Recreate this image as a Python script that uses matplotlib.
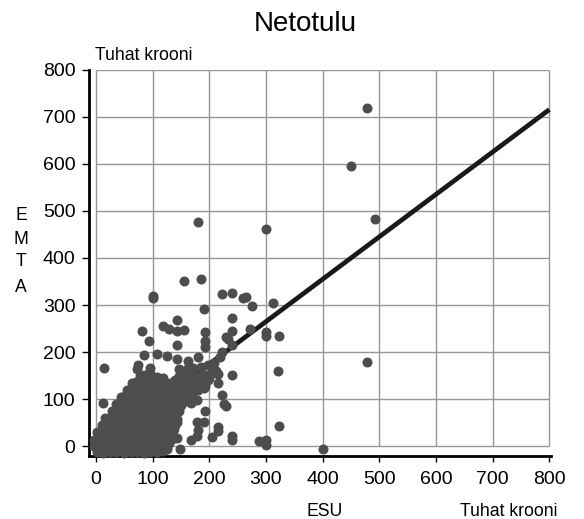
import matplotlib
matplotlib.use('Agg')
import matplotlib.pyplot as plt

plt.rcParams['font.family'] = ['Liberation Sans', 'DejaVu Sans']

ticks = [0, 100, 200, 300, 400, 500, 600, 700, 800]

# scattered points read one by one
esu_out = [478, 450, 492, 478, 300, 180, 400, 155, 186, 100, 101, 222, 240, 259, 264, 275, 312,
           191, 240, 143, 119, 129, 143, 156, 81, 193, 240, 271, 300, 300, 323, 229, 233, 192,
           93, 143, 240, 192, 84, 108, 125, 143, 163, 180, 15, 75, 72, 96, 322, 240, 216, 216,
           223, 225, 229, 193, 179, 168, 13, 323, 216, 216, 190, 179, 180, 178, 168, 204, 240,
           240, 288, 300, 300, 149, 143, 143]
emta_out = [719, 596, 483, 180, 462, 477, -6, 351, 355, 319, 316, 324, 326, 314, 317, 298, 305,
            292, 272, 268, 256, 250, 246, 247, 245, 242, 245, 249, 243, 235, 234, 232, 228, 224,
            224, 216, 216, 212, 194, 196, 191, 185, 182, 189, 167, 173, 165, 166, 160, 152, 153, 134,
            110, 90, 85, 75, 99, 92, 93, 44, 42, 32, 52, 52, 35, 23, 14, 20, 23,
            13, 12, 14, 4, -5, 18, 51]

# dense cloud near the origin, read row by row
esu_low = [1, 12, 25, 36, 50, 61, 73, 85, 96, 108, 118,
           -4, 8, 20, 33, 44, 57, 69, 80, 93, 105, 116, 125,
           -3, 9, 22, 34, 46, 58, 70, 82, 95, 107, 119, 133,
           2, 13, 24, 37, 49, 60, 72, 86, 97, 110, 122, 135,
           10, 18, 29, 41, 53, 65, 77, 88, 100, 113, 126, 140,
           16, 24, 36, 47, 59, 71, 83, 95, 107, 118, 131, 143]
emta_low = [-12, -13, -11, -12, -13, -11, -12, -13, -12, -11, -10,
            1, 0, 2, 0, 1, -1, 2, 0, 1, 0, 2, -2,
            14, 16, 15, 13, 16, 15, 14, 16, 15, 14, 16, 14,
            30, 29, 31, 30, 29, 31, 30, 29, 31, 30, 28, 30,
            45, 44, 46, 45, 44, 46, 45, 44, 46, 45, 44, 46,
            60, 61, 59, 60, 61, 59, 60, 61, 59, 60, 61, 58]
esu_mid = [28, 34, 44, 55, 67, 79, 91, 103, 115, 127, 140, 146,
           36, 42, 50, 62, 74, 86, 98, 110, 122, 134, 146, 150,
           45, 52, 64, 76, 88, 100, 112, 124, 136, 148, 158, 165,
           55, 61, 73, 85, 97, 109, 121, 133, 145, 157, 170, 180, 190,
           63, 70, 82, 94, 106, 118, 130, 142, 154, 166, 178, 190, 198,
           78, 84, 95, 108, 118, 146, 158, 170, 182, 194, 204, 212,
           96, 147, 160, 172, 185, 197, 208, 218, 222]
emta_mid = [75, 76, 74, 75, 76, 74, 75, 76, 74, 75, 74, 76,
            90, 89, 91, 90, 89, 91, 90, 89, 91, 90, 89, 88,
            105, 106, 104, 105, 106, 104, 105, 106, 104, 105, 104, 103,
            120, 119, 121, 120, 119, 121, 120, 119, 121, 120, 118, 120, 125,
            135, 136, 134, 135, 136, 134, 135, 136, 134, 135, 136, 134, 140,
            150, 151, 149, 148, 146, 150, 151, 149, 150, 151, 155, 160,
            156, 165, 164, 166, 168, 172, 178, 190, 200]

# points between the rows, keeps the cloud solid
esu_fill = [5, 18, 30, 42, 54, 66, 78, 90, 102, 114, 126,
            3, 15, 28, 40, 52, 64, 76, 90, 102, 114, 128,
            7, 19, 31, 43, 55, 67, 79, 92, 104, 116, 130,
            14, 27, 39, 51, 63, 75, 87, 99, 111, 124, 137,
            22, 34, 46, 58, 70, 82, 94, 106, 118, 130, 141,
            32, 42, 56, 68, 80, 92, 104, 116, 128, 140,
            42, 54, 66, 78, 90, 102, 114, 126, 138, 146,
            52, 64, 76, 88, 100, 112, 124, 136, 148, 158,
            62, 74, 86, 98, 110, 122, 134, 146, 158, 170,
            72, 84, 96, 108, 120, 132, 144, 156, 168, 180, 192,
            90, 104, 116, 140, 152, 164, 176, 188, 200]
emta_fill = [-6, -5, -7, -6, -5, -7, -6, -5, -7, -6, -5,
             8, 7, 9, 8, 7, 9, 8, 7, 9, 8, 7,
             22, 23, 21, 22, 23, 21, 22, 23, 21, 22, 23,
             37, 38, 36, 37, 38, 36, 37, 38, 36, 37, 38,
             52, 53, 51, 52, 53, 51, 52, 53, 51, 52, 50,
             67, 68, 66, 67, 68, 66, 67, 68, 66, 67,
             82, 83, 81, 82, 83, 81, 82, 83, 81, 82,
             97, 98, 96, 97, 98, 96, 97, 98, 96, 97,
             112, 113, 111, 112, 113, 111, 112, 113, 111, 110,
             127, 128, 126, 127, 128, 126, 127, 128, 126, 127, 128,
             143, 143, 141, 142, 143, 141, 142, 143, 145]

line_x = [0, 800]
line_y = [-5, 715]

fig = plt.figure(figsize=(5.84, 5.19), dpi=100)
ax = fig.add_axes([89.3 / 584, 1 - 455.7 / 519, (550.5 - 89.3) / 584, (455.7 - 69.5) / 519])
ax.set_xlim(-11.8, 802)
ax.set_ylim(-19.7, 800)

ax.hlines(ticks, 0, 800, color='#969696', lw=1, zorder=1)
ax.vlines(ticks, 0, 800, color='#969696', lw=1, zorder=1)

ax.plot(line_x, line_y, color='#1a1a1a', lw=3.4, zorder=2, solid_capstyle='butt')
ax.scatter(esu_out + esu_low + esu_mid + esu_fill, emta_out + emta_low + emta_mid + emta_fill,
           s=52, color='#4d4d4d', lw=0, zorder=3, clip_on=False)

for side in ['top', 'right']:
    ax.spines[side].set_visible(False)
for side in ['left', 'bottom']:
    ax.spines[side].set_linewidth(2)
    ax.spines[side].set_color('black')
ax.set_xticks(ticks)
ax.set_yticks(ticks)
ax.tick_params(axis='x', labelsize=14, length=4, width=1, color='black', pad=7)
ax.tick_params(axis='y', labelsize=14, length=5, width=1, color='black', pad=5)

fig.text(305 / 584, 1 - 24 / 519, 'Netotulu', fontsize=20, ha='center', va='center')
fig.text(95 / 584, 1 - 55 / 519, 'Tuhat krooni', fontsize=12.7, ha='left', va='center')
fig.text(509 / 584, 1 - 512 / 519, 'Tuhat krooni', fontsize=12.7, ha='center', va='center')
fig.text(325 / 584, 1 - 512 / 519, 'ESU', fontsize=12.7, ha='center', va='center')
for label, py in zip('EMTA', [216, 240, 262, 288]):
    fig.text(21 / 584, 1 - py / 519, label, fontsize=12.7, ha='center', va='center')

fig.savefig('out.png', dpi=100)
